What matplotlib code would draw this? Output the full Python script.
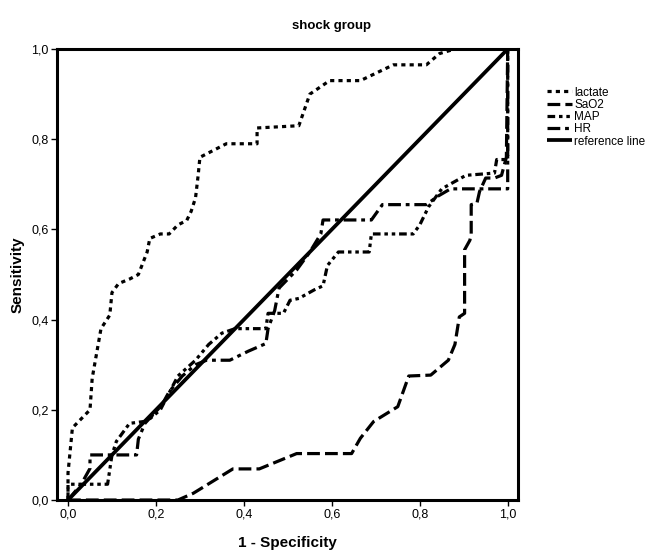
import numpy as np
import matplotlib.pyplot as plt

plt.rcParams['font.family'] = ['Liberation Sans', 'DejaVu Sans']

# ROC curves (1 - specificity, sensitivity)
lactate_x = [0, 0, 0.01, 0.05, 0.055, 0.075, 0.095, 0.10, 0.115, 0.14, 0.16, 0.18, 0.186,
             0.21, 0.23, 0.25, 0.27, 0.28, 0.29, 0.296, 0.30, 0.36, 0.43, 0.43, 0.525,
             0.55, 0.595, 0.665, 0.74, 0.815, 0.845, 0.88, 1.0]
lactate_y = [0, 0.06, 0.16, 0.20, 0.27, 0.38, 0.41, 0.46, 0.48, 0.49, 0.50, 0.55, 0.58,
             0.59, 0.59, 0.61, 0.62, 0.64, 0.67, 0.72, 0.76, 0.79, 0.79, 0.825, 0.83,
             0.90, 0.93, 0.93, 0.965, 0.965, 0.99, 1.0, 1.0]

sao2_x = [0, 0.25, 0.285, 0.32, 0.36, 0.375, 0.435, 0.475, 0.52, 0.645, 0.665, 0.695,
          0.75, 0.775, 0.825, 0.865, 0.88, 0.89, 0.902, 0.902, 0.914, 0.917, 0.917, 0.93,
          0.936, 0.95, 0.97, 0.986, 0.997, 1.0]
sao2_y = [0, 0, 0.015, 0.036, 0.06, 0.069, 0.069, 0.085, 0.103, 0.103, 0.137, 0.174,
          0.207, 0.275, 0.277, 0.31, 0.345, 0.406, 0.414, 0.555, 0.576, 0.59, 0.655, 0.658,
          0.684, 0.714, 0.714, 0.72, 0.76, 1.0]

map_x = [0, 0, 0.04, 0.09, 0.10, 0.11, 0.14, 0.18, 0.21, 0.25, 0.29, 0.32, 0.35, 0.38,
         0.45, 0.455, 0.49, 0.505, 0.525, 0.56, 0.58, 0.59, 0.615, 0.685, 0.69, 0.785,
         0.80, 0.82, 0.85, 0.905, 0.97, 0.975, 1.0, 1.0]
map_y = [0, 0.035, 0.035, 0.035, 0.10, 0.13, 0.17, 0.175, 0.20, 0.275, 0.31, 0.345,
         0.37, 0.38, 0.38, 0.414, 0.414, 0.443, 0.447, 0.466, 0.475, 0.52, 0.55, 0.55,
         0.59, 0.59, 0.61, 0.65, 0.69, 0.72, 0.725, 0.755, 0.755, 1.0]

hr_x = [0, 0.03, 0.05, 0.05, 0.08, 0.156, 0.16, 0.175, 0.213, 0.23, 0.26, 0.29, 0.315,
        0.368, 0.41, 0.45, 0.455, 0.47, 0.48, 0.50, 0.52, 0.55, 0.575, 0.58, 0.69, 0.715,
        0.815, 0.84, 0.87, 0.96, 1.0, 1.0]
hr_y = [0, 0.035, 0.07, 0.10, 0.10, 0.10, 0.135, 0.17, 0.21, 0.24, 0.275, 0.30, 0.31,
        0.31, 0.33, 0.347, 0.38, 0.42, 0.47, 0.49, 0.51, 0.55, 0.59, 0.621, 0.621, 0.655,
        0.655, 0.673, 0.69, 0.69, 0.69, 1.0]

ref_x = [0, 1]
ref_y = [0, 1]

ticks = [0.0, 0.2, 0.4, 0.6, 0.8, 1.0]
tick_labels = ['0,0', '0,2', '0,4', '0,6', '0,8', '1,0']

fig = plt.figure(figsize=(6.63, 5.53), dpi=100)
ax = fig.add_axes([0.086, 0.0958, 0.695, 0.8155])

lw = 2.3
ax.plot(lactate_x, lactate_y, color='black', lw=lw, linestyle=(0, (1.3, 1.3)),
        label='lactate')
ax.plot(sao2_x, sao2_y, color='black', lw=lw, linestyle=(0, (4, 1.6)), label='SaO2')
ax.plot(map_x, map_y, color='black', lw=lw,
        linestyle=(0, (2.4, 1.2, 1.1, 1.2, 1.1, 1.2)), label='MAP')
ax.plot(hr_x, hr_y, color='black', lw=lw, linestyle=(0, (4, 1.5, 1.2, 1.5)), label='HR')
ax.plot(ref_x, ref_y, color='black', lw=2.7, solid_capstyle='butt', label='reference line')

ax.set_xlim(-0.025, 1.023)
ax.set_ylim(0, 1)
ax.set_xticks(ticks)
ax.set_xticklabels(tick_labels)
ax.set_yticks(ticks)
ax.set_yticklabels(tick_labels)
ax.tick_params(direction='out', length=4, width=1, labelsize=9, pad=2)

for s in ax.spines.values():
    s.set_linewidth(2.2)

ax.set_xlabel('1 - Specificity', fontsize=11, fontweight='bold', labelpad=11)
ax.set_ylabel('Sensitivity', fontsize=11, fontweight='bold', labelpad=5)
fig.text(0.5, 0.953, 'shock group', ha='center', va='center', fontsize=9.5,
         fontweight='bold')

fig.legend(loc='upper left', bbox_to_anchor=(0.818, 0.852), frameon=False,
           fontsize=8.5, handlelength=2.1, handletextpad=0.2, labelspacing=0.02,
           borderaxespad=0)

fig.savefig('out.png', dpi=100)
